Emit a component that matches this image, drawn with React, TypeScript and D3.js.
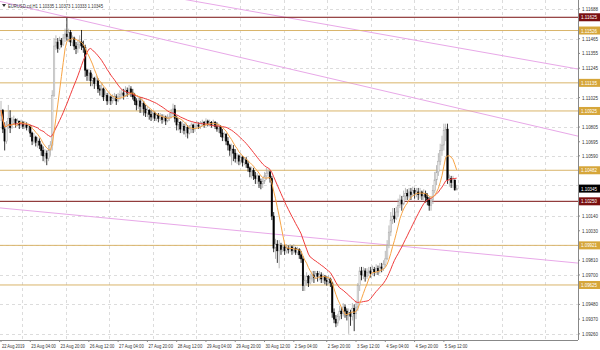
import React from "react";
import * as d3 from "d3";

const firstOpen = 1.1089;
const closes = [
  1.1093,1.1079,1.1070,1.1082,1.1087,1.1080,1.1085,1.1086,1.1083,1.1085,
  1.1082,1.1084,1.1081,1.1082,1.1080,1.1081,1.1076,1.1070,1.1073,1.1069,
  1.1070,1.1067,1.1063,1.1059,1.1061,1.1057,1.1063,1.1067,1.1104,1.1141,
  1.1144,1.1139,1.1145,1.1142,1.1147,1.1150,1.1148,1.1151,1.1144,1.1147,
  1.1141,1.1139,1.1142,1.1144,1.1141,1.1140,1.1123,1.1119,1.1121,1.1115,
  1.1117,1.1113,1.1115,1.1109,1.1108,1.1109,1.1103,1.1104,1.1100,1.1103,
  1.1100,1.1102,1.1103,1.1100,1.1103,1.1105,1.1106,1.1104,1.1108,1.1106,
  1.1109,1.1106,1.1103,1.1100,1.1097,1.1100,1.1096,1.1098,1.1094,1.1091,
  1.1093,1.1090,1.1088,1.1091,1.1087,1.1089,1.1087,1.1088,1.1086,1.1088,
  1.1085,1.1087,1.1088,1.1091,1.1094,1.1087,1.1082,1.1084,1.1079,1.1081,
  1.1078,1.1080,1.1076,1.1079,1.1082,1.1079,1.1081,1.1082,1.1081,1.1083,
  1.1084,1.1082,1.1085,1.1083,1.1084,1.1082,1.1084,1.1081,1.1079,1.1081,
  1.1076,1.1073,1.1075,1.1070,1.1067,1.1063,1.1064,1.1061,1.1057,1.1059,
  1.1055,1.1058,1.1054,1.1056,1.1053,1.1050,1.1047,1.1048,1.1044,1.1042,
  1.1044,1.1040,1.1038,1.1040,1.1044,1.1046,1.1047,1.1042,1.1014,1.0990,
  1.0993,1.0988,1.0992,1.0989,1.0991,1.0988,1.0990,1.0989,1.0991,1.0988,
  1.0990,1.0987,1.0989,1.0985,1.0982,1.0962,1.0966,1.0969,1.0964,1.0967,
  1.0970,1.0968,1.0971,1.0969,1.0970,1.0967,1.0969,1.0966,1.0965,1.0967,
  1.0964,1.0942,1.0937,1.0934,1.0939,1.0943,1.0941,1.0946,1.0943,1.0940,
  1.0942,1.0939,1.0945,1.0941,1.0946,1.0962,1.0973,1.0970,1.0973,1.0969,
  1.0972,1.0973,1.0971,1.0974,1.0972,1.0975,1.0973,1.0976,1.0975,1.0978,
  1.0982,1.0992,1.1002,1.1011,1.1014,1.1012,1.1017,1.1022,1.1026,1.1023,
  1.1029,1.1031,1.1029,1.1032,1.1030,1.1033,1.1031,1.1032,1.1030,1.1032,
  1.1029,1.1031,1.1028,1.1026,1.1022,1.1026,1.1033,1.1041,1.1047,1.1055,
  1.1063,1.1067,1.1078,1.1079,1.1041,1.1042,1.1039,1.1041,1.10335,1.10345
];
const highs = [
  1.1100,1.1094,1.1084,1.1085,1.1097,1.1093,1.1088,1.1089,1.1087,1.1087,
  1.1085,1.1086,1.1085,1.1085,1.1084,1.1083,1.1082,1.1077,1.1076,1.1074,
  1.1073,1.1072,1.1068,1.1066,1.1064,1.1063,1.1067,1.1070,1.1108,1.1147,
  1.1149,1.1147,1.1148,1.1147,1.1150,1.1154,1.1162,1.1154,1.1153,1.1149,
  1.1148,1.1144,1.1145,1.1149,1.1153,1.1145,1.1142,1.1124,1.1124,1.1123,
  1.1120,1.1118,1.1119,1.1117,1.1112,1.1114,1.1110,1.1108,1.1106,1.1106,
  1.1104,1.1105,1.1106,1.1105,1.1106,1.1108,1.1109,1.1109,1.1111,1.1110,
  1.1112,1.1111,1.1109,1.1106,1.1102,1.1103,1.1103,1.1103,1.1100,1.1097,
  1.1096,1.1094,1.1093,1.1093,1.1092,1.1091,1.1091,1.1091,1.1090,1.1090,
  1.1089,1.1090,1.1091,1.1094,1.1098,1.1097,1.1089,1.1087,1.1085,1.1085,
  1.1083,1.1084,1.1082,1.1082,1.1084,1.1083,1.1084,1.1085,1.1084,1.1085,
  1.1086,1.1085,1.1087,1.1086,1.1086,1.1085,1.1086,1.1085,1.1084,1.1083,
  1.1082,1.1079,1.1077,1.1076,1.1073,1.1068,1.1068,1.1067,1.1064,1.1061,
  1.1060,1.1061,1.1059,1.1058,1.1058,1.1055,1.1051,1.1051,1.1050,1.1047,
  1.1046,1.1044,1.1042,1.1043,1.1047,1.1050,1.1049,1.1048,1.1044,1.1017,
  1.0997,1.0996,1.0996,1.0994,1.0993,1.0993,1.0993,1.0992,1.0993,1.0992,
  1.0993,1.0991,1.0991,1.0990,1.0988,1.0984,1.0970,1.0972,1.0970,1.0971,
  1.0973,1.0973,1.0973,1.0973,1.0973,1.0972,1.0971,1.0970,1.0969,1.0970,
  1.0968,1.0965,1.0945,1.0940,1.0941,1.0947,1.0946,1.0949,1.0948,1.0945,
  1.0945,1.0944,1.0949,1.0948,1.0951,1.0964,1.0976,1.0976,1.0976,1.0975,
  1.0975,1.0976,1.0976,1.0977,1.0976,1.0978,1.0977,1.0979,1.0979,1.0981,
  1.0988,1.0996,1.1007,1.1017,1.1020,1.1020,1.1021,1.1027,1.1030,1.1029,
  1.1033,1.1035,1.1034,1.1035,1.1035,1.1036,1.1035,1.1035,1.1035,1.1035,
  1.1033,1.1034,1.1033,1.1031,1.1028,1.1029,1.1037,1.1047,1.1052,1.1061,
  1.1068,1.1074,1.1083,1.1083,1.1083,1.1045,1.1044,1.1044,1.1041,1.10373
];
const lows = [
  1.1085,1.1076,1.1063,1.1068,1.1079,1.1076,1.1079,1.1082,1.1080,1.1081,
  1.1079,1.1080,1.1079,1.1079,1.1078,1.1077,1.1073,1.1067,1.1068,1.1066,
  1.1065,1.1064,1.1059,1.1055,1.1054,1.1052,1.1055,1.1059,1.1063,1.1103,
  1.1138,1.1136,1.1138,1.1140,1.1141,1.1144,1.1145,1.1144,1.1141,1.1141,
  1.1138,1.1135,1.1136,1.1139,1.1138,1.1136,1.1118,1.1115,1.1115,1.1111,
  1.1111,1.1109,1.1111,1.1106,1.1104,1.1103,1.1100,1.1100,1.1097,1.1098,
  1.1097,1.1098,1.1100,1.1097,1.1099,1.1101,1.1103,1.1101,1.1103,1.1103,
  1.1104,1.1103,1.1101,1.1097,1.1093,1.1094,1.1091,1.1091,1.1089,1.1088,
  1.1088,1.1086,1.1085,1.1086,1.1085,1.1085,1.1084,1.1085,1.1083,1.1084,
  1.1082,1.1084,1.1085,1.1087,1.1089,1.1084,1.1078,1.1078,1.1076,1.1076,
  1.1075,1.1073,1.1072,1.1075,1.1076,1.1076,1.1077,1.1079,1.1079,1.1079,
  1.1081,1.1080,1.1081,1.1081,1.1081,1.1080,1.1081,1.1079,1.1077,1.1076,
  1.1073,1.1070,1.1070,1.1067,1.1063,1.1059,1.1052,1.1055,1.1054,1.1053,
  1.1052,1.1053,1.1051,1.1052,1.1050,1.1047,1.1043,1.1042,1.1041,1.1038,
  1.1038,1.1035,1.1034,1.1035,1.1038,1.1041,1.1042,1.1039,1.1011,1.0987,
  1.0982,1.0979,1.0975,1.0985,1.0987,1.0985,1.0986,1.0986,1.0987,1.0985,
  1.0986,1.0985,1.0985,1.0982,1.0979,1.0958,1.0958,1.0962,1.0961,1.0963,
  1.0965,1.0964,1.0967,1.0965,1.0966,1.0964,1.0964,1.0963,1.0962,1.0963,
  1.0961,1.0938,1.0934,1.0931,1.0932,1.0936,1.0937,1.0939,1.0938,1.0936,
  1.0926,1.0932,1.0936,1.0928,1.0937,1.0943,1.0958,1.0966,1.0967,1.0965,
  1.0967,1.0969,1.0968,1.0970,1.0969,1.0970,1.0970,1.0971,1.0972,1.0973,
  1.0976,1.0981,1.0990,1.0999,1.1008,1.1009,1.1011,1.1014,1.1020,1.1018,
  1.1022,1.1026,1.1026,1.1027,1.1026,1.1029,1.1027,1.1028,1.1026,1.1027,
  1.1026,1.1026,1.1024,1.1022,1.1018,1.1018,1.1023,1.1031,1.1037,1.1044,
  1.1052,1.1059,1.1063,1.1070,1.1038,1.1036,1.1035,1.1035,1.1033,1.10333
];

const priceTicks = [
  1.11688,1.11575,1.11465,1.11355,1.11245,1.11135,1.11025,1.10915,1.10805,1.10695,
  1.1059,1.1048,1.1037,1.1026,1.1014,1.1003,1.0992,1.0981,1.097,1.0959,1.0948,1.0937,1.0926
];
const timeLabels = [
  "22 Aug 2019","23 Aug 04:00","23 Aug 20:00","26 Aug 12:00","27 Aug 04:00","27 Aug 20:00",
  "28 Aug 12:00","29 Aug 04:00","29 Aug 20:00","30 Aug 12:00","2 Sep 04:00","2 Sep 20:00",
  "3 Sep 12:00","4 Sep 04:00","4 Sep 20:00","5 Sep 12:00"
];
const timeLabelBars = [0,16,32,48,64,80,96,112,128,144,160,178,194,210,226,242];

const goldLevels = [1.11526, 1.11135, 1.10925, 1.10482, 1.09921, 1.09625];
const maroonLevels = [1.11625, 1.1025];
const bidPrice = 1.10345;
const titleText = "EURUSD.cd,H1  1.10335 1.10373 1.10333 1.10345";
// trend lines as [bar, price] anchor pairs
const trendLines = [
  [[36, 1.11627], [315, 1.10738]],
  [[102, 1.11754], [315, 1.11239]],
  [[0, 1.1020], [315, 1.09789]],
];
const fastPeriod = 8;
const slowPeriod = 21;

export default function App() {
  const W = 600, H = 350;
  const plotR = 578, plotB = 340;
  const n = closes.length;
  const x = d3.scaleLinear().domain([0, n - 1]).range([1, 1 + 1.83 * (n - 1)]);
  const y = d3.scaleLinear().domain([1.11754, 1.09214]).range([0, plotB]);

  const candles = closes.map((c, i) => ({
    i, o: i === 0 ? firstOpen : closes[i - 1], h: highs[i], l: lows[i], c,
  }));
  const sma = (p: number) =>
    closes.map((_, i) => d3.mean(closes.slice(Math.max(0, i - p + 1), i + 1)) as number);
  const line = d3.line<number>().x((_, i) => x(i)).y((v) => y(v));
  const fast = line(sma(fastPeriod)) || "";
  const slow = line(sma(slowPeriod)) || "";

  const boxes = [...goldLevels, ...maroonLevels, bidPrice];
  const visibleTicks = priceTicks.filter((t) => boxes.every((b) => Math.abs(y(t) - y(b)) > 7));

  const vGrid = d3.range(22, plotR, 43.6);
  const hGrid = priceTicks.filter((_, k) => k % 2 === 0).map((t) => y(t));
  const fmt = (v: number) => v.toFixed(5);
  const font = "Liberation Sans, Arial, sans-serif";

  const trend = trendLines.map(([a, b]) => {
    const slope = (b[1] - a[1]) / (b[0] - a[0]);
    const x0 = x.invert(0), x1 = x.invert(plotR);
    return { x1: 0, y1: y(a[1] + slope * (x0 - a[0])), x2: plotR, y2: y(a[1] + slope * (x1 - a[0])) };
  });

  const box = (v: number, bg: string, key: string) => (
    <g key={key}>
      <rect x={plotR + 1} y={y(v) - 4} width={21} height={8} fill={bg} />
      <text x={plotR + 3} y={y(v) + 2} fontSize={5} fill="#fff" fontFamily={font}
        textLength={16} lengthAdjust="spacingAndGlyphs">{fmt(v)}</text>
    </g>
  );

  return (
    <svg width={W} height={H} style={{ position: "absolute", left: 0, top: 0, background: "#fff" }}>
      <defs>
        <clipPath id="plot"><rect x={0} y={0} width={plotR} height={plotB} /></clipPath>
      </defs>
      <rect x={0} y={0} width={W} height={H} fill="#fff" />
      <g stroke="#dcdcdc" strokeWidth={1} strokeDasharray="3,3">
        {vGrid.map((gx, k) => <line key={"v" + k} x1={Math.round(gx) + 0.5} x2={Math.round(gx) + 0.5} y1={0} y2={plotB} />)}
        {hGrid.map((gy, k) => <line key={"h" + k} x1={0} x2={plotR} y1={Math.round(gy) + 0.5} y2={Math.round(gy) + 0.5} />)}
      </g>
      <g clipPath="url(#plot)">
        {trend.map((t, k) => (
          <line key={"t" + k} {...t} stroke="#e8a8e8" strokeWidth={1} />
        ))}
        {goldLevels.map((v, k) => (
          <line key={"g" + k} x1={0} x2={plotR} y1={y(v)} y2={y(v)} stroke="#d9b46a" strokeWidth={1} />
        ))}
        {maroonLevels.map((v, k) => (
          <line key={"m" + k} x1={0} x2={plotR} y1={y(v)} y2={y(v)} stroke="#7a1010" strokeWidth={1} />
        ))}
        {candles.map((d) => {
          const bull = d.c >= d.o;
          const cx = x(d.i);
          const top = y(Math.max(d.o, d.c));
          const bh = Math.max(1, y(Math.min(d.o, d.c)) - top);
          return (
            <g key={"c" + d.i}>
              <line x1={cx} x2={cx} y1={y(d.h)} y2={y(d.l)} stroke={bull ? "#a8a8a8" : "#000"} strokeWidth={0.8} />
              <rect x={cx - 0.75} y={top} width={1.5} height={bh}
                fill={bull ? "#ececec" : "#000"} stroke={bull ? "#a8a8a8" : "#000"} strokeWidth={0.5} />
            </g>
          );
        })}
        <path d={slow} fill="none" stroke="#f03c3c" strokeWidth={1} />
        <path d={fast} fill="none" stroke="#f7a445" strokeWidth={1} />
      </g>
      <line x1={plotR + 0.5} x2={plotR + 0.5} y1={0} y2={plotB} stroke="#888" />
      <line x1={0} x2={plotR} y1={plotB + 0.5} y2={plotB + 0.5} stroke="#888" />
      {visibleTicks.map((t, k) => (
        <g key={"pt" + k}>
          <line x1={plotR} x2={plotR + 2} y1={y(t)} y2={y(t)} stroke="#888" />
          <text x={plotR + 4} y={y(t) + 2} fontSize={5} fill="#333" fontFamily={font}
            textLength={16} lengthAdjust="spacingAndGlyphs">{fmt(t)}</text>
        </g>
      ))}
      {timeLabels.map((s, k) => (
        <g key={"tl" + k}>
          <line x1={x(timeLabelBars[k])} x2={x(timeLabelBars[k])} y1={plotB} y2={plotB + 2} stroke="#888" />
          <text x={x(timeLabelBars[k]) + 1} y={plotB + 7.5} fontSize={5} fill="#333" fontFamily={font}
            textLength={s.length * 2.05} lengthAdjust="spacingAndGlyphs">{s}</text>
        </g>
      ))}
      {goldLevels.map((v, k) => box(v, "#d6a63a", "gb" + k))}
      {maroonLevels.map((v, k) => box(v, "#7a1010", "mb" + k))}
      {box(bidPrice, "#000", "bid")}
      <path d="M2,4 L6,4 L4,7 Z" fill="#333" />
      <text x={8} y={8} fontSize={5.5} fill="#333" fontFamily={font}
        textLength={95} lengthAdjust="spacingAndGlyphs">{titleText}</text>
    </svg>
  );
}
